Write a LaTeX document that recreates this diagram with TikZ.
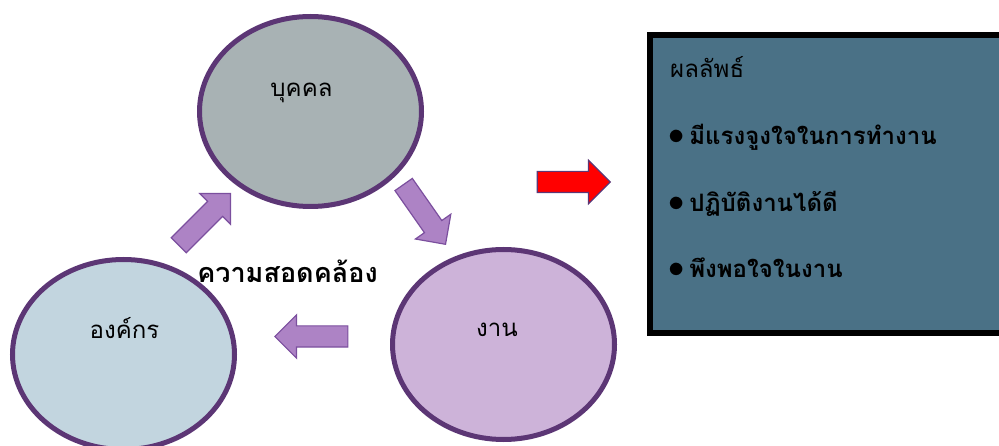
\documentclass[tikz,border=0pt]{standalone}
\usepackage{fontspec}
\setmainfont[Script=Thai]{Loma}
\usetikzlibrary{shapes.geometric,shapes.arrows}
\definecolor{bordo}{HTML}{5C3675}
\definecolor{grigio}{HTML}{A8B2B4}
\definecolor{azzurro}{HTML}{C2D5DF}
\definecolor{malva}{HTML}{CDB3D9}
\definecolor{lilla}{HTML}{AD83C5}
\definecolor{bordofreccia}{HTML}{7B4F9E}
\definecolor{petrolio}{HTML}{4A7186}

\begin{document}
\begin{tikzpicture}[x=1pt,y=-1pt,
    ovale/.style={ellipse, draw=bordo, line width=5pt, minimum width=222pt, minimum height=190pt, inner sep=0pt},
    freccia/.style={single arrow, anchor=tip, draw=bordofreccia, fill=lilla, line width=1.2pt, minimum height=73pt, minimum width=43pt, single arrow head extend=11pt, inner xsep=0pt, inner ysep=10pt},
    testo/.style={font=\fontsize{24}{28}\selectfont, anchor=base, inner sep=0pt},
    voce/.style={font=\fontsize{24}{28}\selectfont\bfseries, anchor=base west, inner sep=0pt}]
    \useasboundingbox (0,0) rectangle (999,446);

    % Ellissi
    \node[ovale, fill=grigio] (persona) at (310.5,111.5) {};
    \node[ovale, fill=azzurro] (organizzazione) at (123.5,354.5) {};
    \node[ovale, fill=malva] (lavoro) at (503.5,344.5) {};

    \node[testo] (tpersona) at (301.5,97) {บุคคล};
    \node[testo] (torganizzazione) at (124.5,339) {องค์กร};
    \node[testo] (tlavoro) at (497,337) {งาน};

    % Frecce del ciclo
    \node[freccia, rotate=45] (f1) at (231,193) {};
    \node[freccia, rotate=-55] (f2) at (446,245) {};
    \node[freccia, rotate=180] (f3) at (274,336.5) {};

    \node[testo, font=\fontsize{27}{31}\selectfont\bfseries] (accordo) at (287.5,283) {ความสอดคล้อง};

    % Freccia rossa
    \node[freccia, fill=red, draw=bordo] (frossa) at (611,182) {};

    % Riquadro dei risultati
    \node[draw=black, line width=6pt, fill=petrolio, anchor=north west, minimum width=363pt, minimum height=298pt, inner sep=0pt] (risultati) at (647,32) {};

    \node[voce, font=\fontsize{24}{28}\selectfont] (titolo) at (670,78) {ผลลัพธ์};
    \node[voce] (v1) at (668,145) {\scalebox{1.3}{$\bullet$}\hspace{5pt}มีแรงจูงใจในการทำงาน};
    \node[voce] (v2) at (668,212) {\scalebox{1.3}{$\bullet$}\hspace{5pt}ปฏิบัติงานได้ดี};
    \node[voce] (v3) at (668,278) {\scalebox{1.3}{$\bullet$}\hspace{5pt}พึงพอใจในงาน};
\end{tikzpicture}
\end{document}
